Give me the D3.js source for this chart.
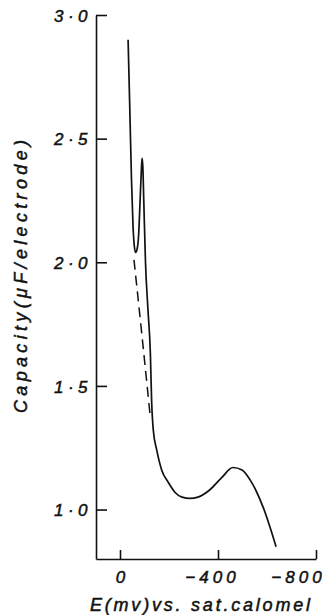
<!DOCTYPE html>
<html>
<head>
<meta charset="utf-8">
<script src="https://cdn.jsdelivr.net/npm/d3@7"></script>
<style>
  html, body { margin: 0; padding: 0; background: #fff; }
  svg { display: block; }
  text { font-family: "Liberation Sans", Arial, sans-serif; font-style: italic; fill: #111; stroke: #111; stroke-width: 0.5px; }
</style>
</head>
<body>
<svg id="chart"></svg>
<script>
var width = 327;
var height = 615;

// potential (mV vs. sat. calomel) and capacity (uF / electrode)
var potential = [-33, -39, -47, -53, -58, -63, -69, -76, -82, -87, -90, -93, -97, -104, -114, -124,
    -129, -136, -150, -170, -197, -224, -253, -286, -318, -367, -416, -461, -498, -531, -584, -637];
var capacity = [2.90, 2.66, 2.33, 2.15, 2.07, 2.04, 2.05, 2.11, 2.25, 2.37, 2.42, 2.39, 2.25, 2.00, 1.81, 1.63,
    1.44, 1.32, 1.24, 1.16, 1.11, 1.07, 1.05, 1.045, 1.05, 1.08, 1.13, 1.17, 1.16, 1.12, 1.01, 0.85];

// dashed extrapolation below the hump
var dashPotential = [-57, -90, -122];
var dashCapacity = [2.01, 1.70, 1.39];

var xTicks = [0, -400, -800];
var xTickLabels = ["0", "\u2212400", "\u2212800"];
var yTicks = [1.0, 1.5, 2.0, 2.5, 3.0];
var yTickLabels = ["1\u00b70", "1\u00b75", "2\u00b70", "2\u00b75", "3\u00b70"];

var x = d3.scaleLinear().domain([98, -800]).range([96, 316]);
var y = d3.scaleLinear().domain([0.8, 3.0]).range([559, 15]);

var svg = d3.select("#chart")
    .attr("width", width)
    .attr("height", height);

// axes
var xAxis = d3.axisBottom(x)
    .tickValues(xTicks)
    .tickFormat(function (d, i) { return xTickLabels[i]; })
    .tickSizeInner(-9)
    .tickSizeOuter(0)
    .tickPadding(12);

var yAxis = d3.axisLeft(y)
    .tickValues(yTicks)
    .tickFormat(function (d, i) { return yTickLabels[i]; })
    .tickSizeInner(-11)
    .tickSizeOuter(0)
    .tickPadding(4);

var gx = svg.append("g")
    .attr("transform", "translate(0," + y.range()[0] + ")")
    .call(xAxis);

var gy = svg.append("g")
    .attr("transform", "translate(" + x.range()[0] + ",0)")
    .call(yAxis);

[gx, gy].forEach(function (g) {
    g.selectAll(".domain, .tick line")
        .attr("stroke", "#111")
        .attr("stroke-width", 1.6);
    g.selectAll("text")
        .attr("fill", "#111")
        .style("font-size", "17px");
});
gy.selectAll("text")
    .attr("dy", "0.36em")
    .style("letter-spacing", "4.5px");
gx.selectAll("text")
    .style("letter-spacing", "4px");

// shift minus signs so the digits sit over the tick
gx.selectAll(".tick text")
    .attr("dx", function (d) { return d === 0 ? 2 : (d === -800 ? -18 : -6); });

// axis titles
svg.append("text")
    .attr("x", 90)
    .attr("y", 611)
    .attr("textLength", 220)
    .attr("lengthAdjust", "spacing")
    .style("font-size", "18px")
    .text("E(mv)vs. sat.calomel");

svg.append("text")
    .attr("transform", "translate(27,413) rotate(-90)")
    .attr("x", 0)
    .attr("y", 0)
    .attr("textLength", 273)
    .attr("lengthAdjust", "spacing")
    .style("font-size", "18px")
    .text("Capacity(\u03bcF/electrode)");

// curves
var line = d3.line()
    .x(function (d) { return x(d[0]); })
    .y(function (d) { return y(d[1]); })
    .curve(d3.curveMonotoneX);

svg.append("path")
    .datum(d3.zip(potential, capacity))
    .attr("d", line)
    .attr("fill", "none")
    .attr("stroke", "#111")
    .attr("stroke-width", 1.7)
    .attr("stroke-linejoin", "round");

svg.append("path")
    .datum(d3.zip(dashPotential, dashCapacity))
    .attr("d", line)
    .attr("fill", "none")
    .attr("stroke", "#111")
    .attr("stroke-width", 1.5)
    .attr("stroke-dasharray", "10,6");
</script>
</body>
</html>
